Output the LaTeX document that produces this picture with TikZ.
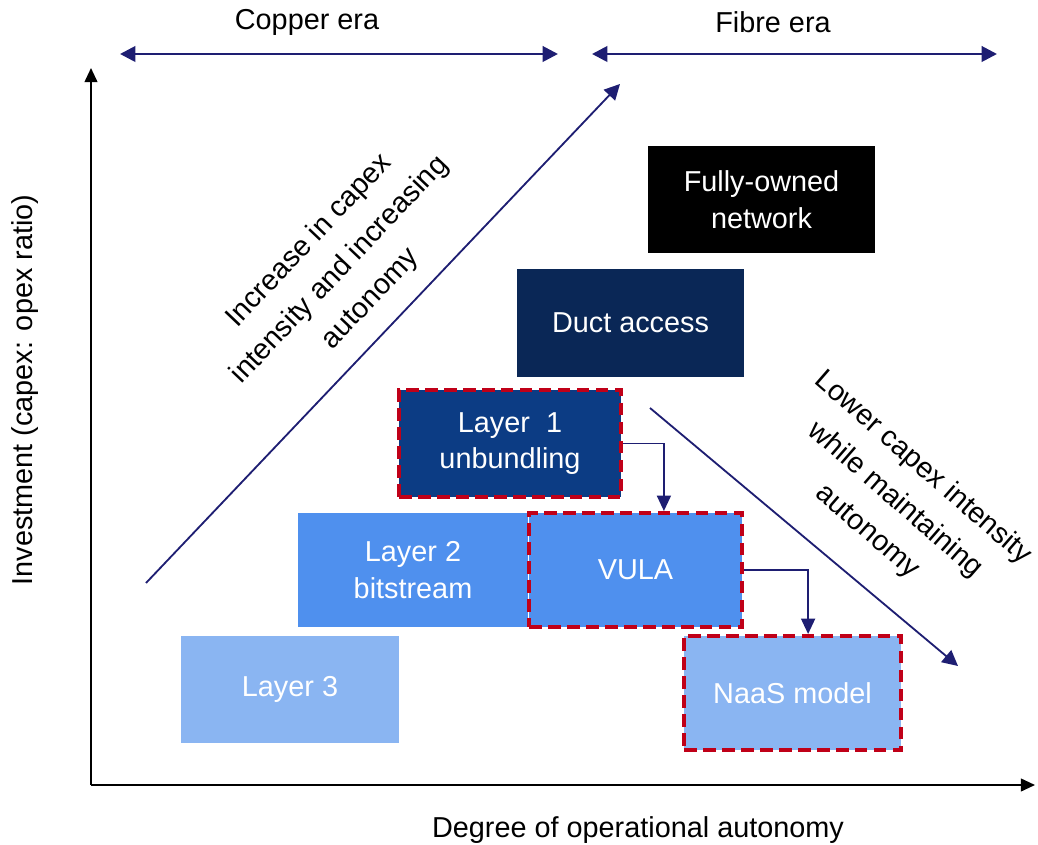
\documentclass[tikz,border=0pt]{standalone}
\usepackage{fontspec}
\setmainfont{Liberation Sans}
\usetikzlibrary{arrows.meta}
\definecolor{navy}{HTML}{1E1E72}
\definecolor{dashred}{HTML}{C00018}
\definecolor{ductblue}{HTML}{0A2756}
\definecolor{oneblue}{HTML}{0C3C84}
\definecolor{twoblue}{HTML}{4F90EE}
\definecolor{threeblue}{HTML}{8AB5F2}
\begin{document}
\begin{tikzpicture}[x=0.025cm,y=-0.025cm,>={Triangle[length=11pt,width=11pt]},
    font=\fontsize{20.5}{26}\selectfont,
    box/.style={text=white,align=center,inner sep=0pt},
    slanted/.style={align=center,font=\fontsize{20.5}{30}\selectfont},
    redline/.style={draw=dashred,line width=2.8pt,dash pattern=on 9pt off 4.5pt},
    link/.style={navy,line width=1.2pt,->,>={Triangle[length=11pt,width=10pt]}}]
    \useasboundingbox (0,0) rectangle (1038,845);
    \coordinate (O) at (91,785);
    \coordinate (Ytop) at (91,68);
    \coordinate (Xend) at (1035,785);
    \coordinate (A) at (146,583);
    \coordinate (B) at (620,84);
    \coordinate (C) at (650,408);
    \coordinate (D) at (958,666);
    \coordinate (CuL) at (120,54);
    \coordinate (CuR) at (558,54);
    \coordinate (FiL) at (592,54);
    \coordinate (FiR) at (997,54);
    % axes
    \draw [line width=1.4pt, ->, >={Triangle[length=10pt,width=9pt]}] (O) -- (Ytop);
    \draw [line width=1.4pt, ->, >={Triangle[length=10pt,width=9pt]}] (O) -- (Xend);
    \node [rotate=90] at (25,390) {Investment (capex: opex ratio)};
    \node at (638,830) {Degree of operational autonomy};
    % eras
    \draw [line width=2pt, <->, navy] (CuL) -- (CuR);
    \draw [line width=2pt, <->, navy] (FiL) -- (FiR);
    \node at (307,22) {Copper era};
    \node at (773,22) {Fibre era};
    % trends
    \draw [line width=1.3pt, ->, navy] (A) -- (B);
    \draw [line width=1.3pt, ->, navy] (C) -- (D);
    \node [slanted, rotate=46.5] at (340,270) {Increase in capex\\intensity and increasing\\autonomy};
    \node [slanted, rotate=-41] at (895,500) {Lower capex intensity\\while maintaining\\autonomy};
    % boxes
    \node [box, fill=black, minimum width=5.675cm, minimum height=2.675cm] (own) at (761.5,199.5) {Fully-owned\\network};
    \node [box, fill=ductblue, minimum width=5.675cm, minimum height=2.7cm] (duct) at (630.5,323) {Duct access};
    \node [box, fill=oneblue, redline, minimum width=5.55cm, minimum height=2.675cm] (lone) at (510,443.5) {Layer\ \ 1\\unbundling};
    \node [box, fill=twoblue, minimum width=5.75cm, minimum height=2.85cm] (ltwo) at (413,570) {Layer 2\\bitstream};
    \node [box, fill=twoblue, redline, minimum width=5.325cm, minimum height=2.85cm] (vula) at (635.5,570) {VULA};
    \node [box, fill=threeblue, minimum width=5.45cm, minimum height=2.675cm] (lthree) at (290,689.5) {Layer 3};
    \node [box, fill=threeblue, redline, minimum width=5.425cm, minimum height=2.85cm] (naas) at (792.5,693) {NaaS model};
    % links
    \draw [link] (lone.east) -| ([xshift=0.71cm]vula.north);
    \draw [link] (vula.east) -| ([xshift=0.39cm]naas.north);
\end{tikzpicture}
\end{document}
